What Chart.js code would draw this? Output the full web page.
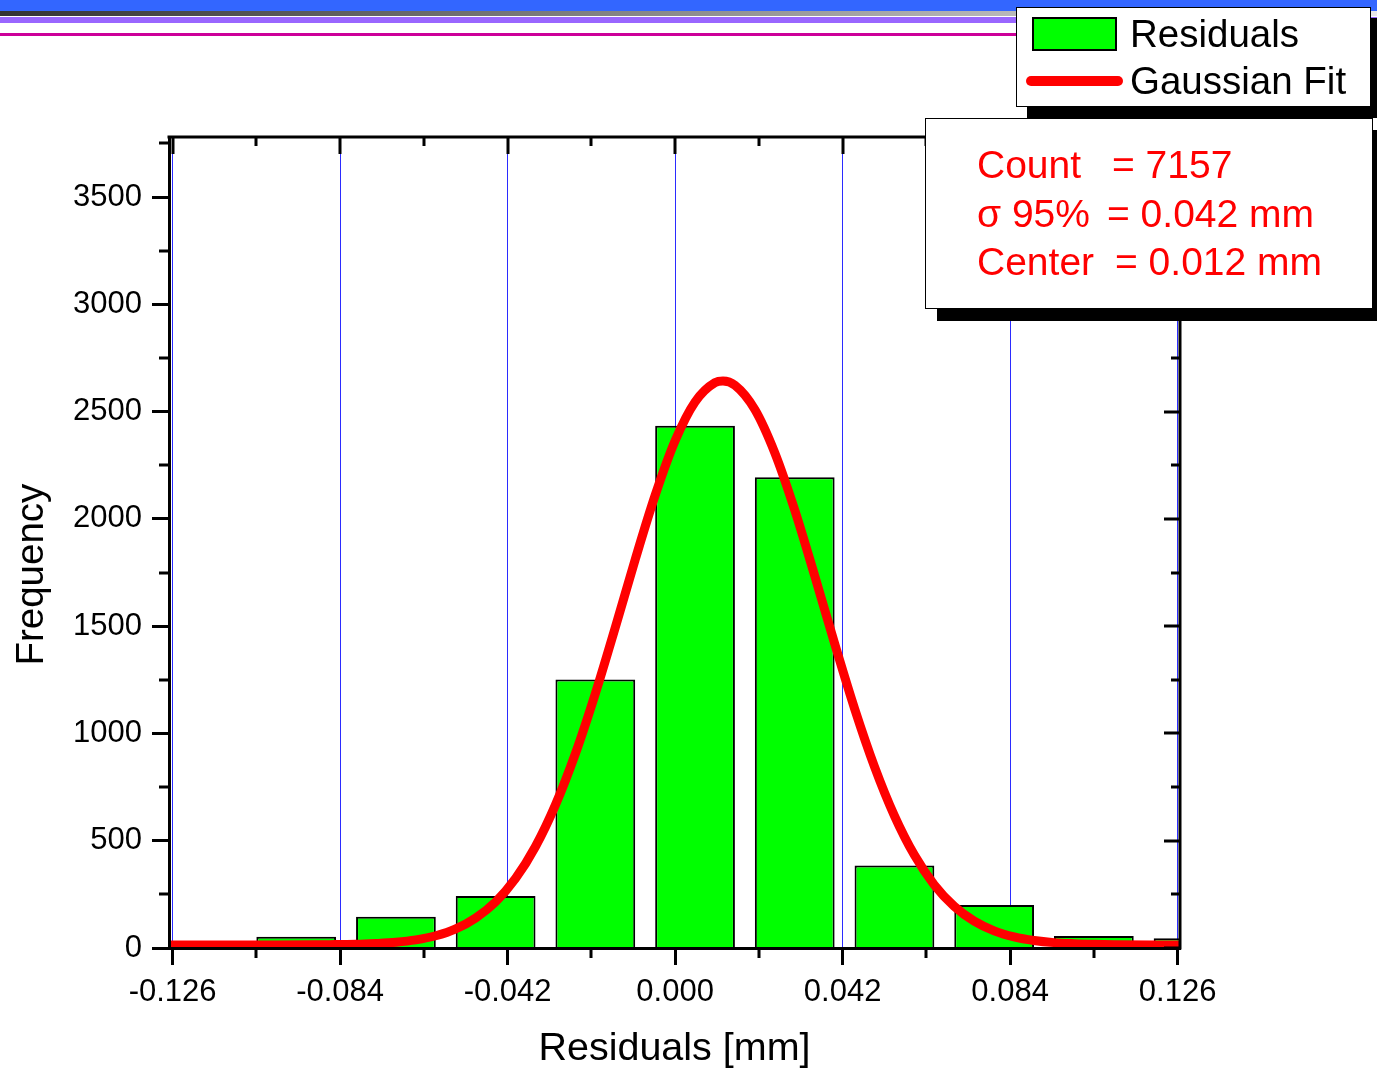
<!DOCTYPE html>
<html>
<head>
<meta charset="utf-8">
<script src="https://cdn.jsdelivr.net/npm/chart.js@4.4.0/dist/chart.umd.min.js"></script>
<style>
html,body{margin:0;padding:0;background:#fff;width:1377px;height:1069px;overflow:hidden;font-family:"Liberation Sans",Arial,sans-serif;}
#wrap{position:relative;width:1377px;height:1069px;}
#chart{position:absolute;left:0;top:0;}
.abs{position:absolute;}
.txt{position:absolute;font-size:38.5px;line-height:38.5px;white-space:pre;}
.stat{position:absolute;font-size:39px;line-height:39px;white-space:pre;color:#FF0000;}
</style>
</head>
<body>
<div id="wrap">
  <canvas id="chart" width="1377" height="1069"></canvas>

  <!-- top decoration bands -->
  <div class="abs" style="left:0;top:0;width:1377px;height:11px;background:#3366FF;"></div>
  <div class="abs" style="left:0;top:11px;width:1377px;height:5px;background:linear-gradient(to right,#333333,#e8e8e8);"></div>
  <div class="abs" style="left:0;top:17px;width:1377px;height:6px;background:#9966FF;"></div>
  <div class="abs" style="left:0;top:33px;width:1377px;height:2.5px;background:#CC0099;"></div>

  <!-- legend -->
  <div class="abs" style="left:1016px;top:7px;width:355px;height:100px;box-sizing:border-box;border:1.5px solid #000;background:#fff;box-shadow:11px 11px 0 #000;"></div>
  <div class="abs" id="swatchBar" style="left:1032px;top:17px;width:85px;height:34px;box-sizing:border-box;border:2px solid #000;background:#00FF00;"></div>
  <div class="abs" id="swatchLine" style="left:1026px;top:76px;width:97px;height:10px;border-radius:5px;background:#FF0000;"></div>
  <div class="txt" id="leg0" style="left:1130px;top:14.5px;"></div>
  <div class="txt" id="leg1" style="left:1130px;top:61.5px;"></div>

  <!-- stats box -->
  <div class="abs" style="left:925px;top:118px;width:448px;height:191px;box-sizing:border-box;border:1.5px solid #000;background:#fff;box-shadow:12px 12px 0 #000;"></div>
  <div class="stat" id="s0a" style="left:977px;top:145px;"></div>
  <div class="stat" id="s0b" style="left:1112px;top:145px;"></div>
  <div class="stat" id="s1a" style="left:977px;top:194px;"></div>
  <div class="stat" id="s1b" style="left:1107px;top:194px;"></div>
  <div class="stat" id="s2a" style="left:977px;top:242px;"></div>
  <div class="stat" id="s2b" style="left:1115px;top:242px;"></div>
</div>

<script>
// ---------------- data ----------------
const binCenters = [-0.12, -0.095, -0.07, -0.045, -0.02, 0.005, 0.03, 0.055, 0.08, 0.105, 0.13];
const counts     = [20, 52, 146, 242, 1252, 2434, 2194, 384, 200, 56, 45];

const fitX = [-0.1269, -0.12, -0.11, -0.10, -0.09, -0.085, -0.08, -0.075, -0.07, -0.065,
              -0.06, -0.055, -0.05, -0.045, -0.04, -0.035, -0.03, -0.025, -0.02, -0.015,
              -0.01, -0.005, 0, 0.005, 0.01, 0.012, 0.015, 0.02, 0.025, 0.03,
              0.035, 0.04, 0.045, 0.05, 0.055, 0.06, 0.065, 0.07, 0.075, 0.08,
              0.085, 0.09, 0.095, 0.10, 0.105, 0.11, 0.12, 0.1266];
const fitY = [14, 14, 14, 14, 15, 16, 17, 21, 27, 38,
              57, 89, 140, 215, 324, 473, 667, 906, 1186, 1494,
              1811, 2110, 2364, 2545, 2635, 2643, 2623, 2510, 2308, 2041,
              1735, 1419, 1116, 845, 616, 433, 294, 194, 125, 80,
              52, 35, 25, 20, 17, 15, 14, 14];

const xTickValues  = [-0.126, -0.084, -0.042, 0, 0.042, 0.084, 0.126];
const xMinorTicks  = [-0.105, -0.063, -0.021, 0.021, 0.063, 0.105];
const yTickValues  = [0, 500, 1000, 1500, 2000, 2500, 3000, 3500];
const yMinorTicks  = [250, 750, 1250, 1750, 2250, 2750, 3250, 3750];
const xRange = [-0.1269, 0.1266];
const yRange = [0, 3780];

const seriesNames = ['Residuals', 'Gaussian Fit'];
const xTitle = 'Residuals [mm]';
const yTitle = 'Frequency';
const statLabels = ['Count', '\u03C3 95%', 'Center'];
const statValues = ['= 7157', '= 0.042 mm', '= 0.012 mm'];

// ---------------- text overlays ----------------
document.getElementById('leg0').textContent = seriesNames[0];
document.getElementById('leg1').textContent = seriesNames[1];
['s0','s1','s2'].forEach((id, i) => {
  document.getElementById(id + 'a').textContent = statLabels[i];
  document.getElementById(id + 'b').textContent = statValues[i];
});

// ---------------- chart ----------------
const FONT = '"Liberation Sans", Arial, sans-serif';

const framePlugin = {
  id: 'originFrame',
  afterDraw(chart) {
    const { ctx, chartArea: a, scales: { x, y } } = chart;
    ctx.save();
    ctx.strokeStyle = '#000';
    ctx.lineWidth = 3;
    ctx.lineCap = 'butt';
    ctx.beginPath();
    // top and right frame lines
    ctx.moveTo(a.left - 1.5, a.top); ctx.lineTo(a.right + 1.5, a.top);
    ctx.moveTo(a.right, a.top); ctx.lineTo(a.right, a.bottom + 1.5);
    // bottom minor ticks (outward) and top ticks (inward)
    xMinorTicks.forEach(v => {
      const px = Math.round(x.getPixelForValue(v));
      ctx.moveTo(px, a.bottom); ctx.lineTo(px, a.bottom + 10);
      ctx.moveTo(px, a.top); ctx.lineTo(px, a.top + 9);
    });
    xTickValues.forEach(v => {
      const px = Math.round(x.getPixelForValue(v));
      ctx.moveTo(px, a.top); ctx.lineTo(px, a.top + 17);
    });
    // left minor ticks (outward) and right ticks (inward)
    yMinorTicks.forEach(v => {
      const py = Math.round(y.getPixelForValue(v));
      ctx.moveTo(a.left, py); ctx.lineTo(a.left - 10, py);
      ctx.moveTo(a.right, py); ctx.lineTo(a.right - 9, py);
    });
    yTickValues.forEach(v => {
      const py = Math.round(y.getPixelForValue(v));
      ctx.moveTo(a.right, py); ctx.lineTo(a.right - 16, py);
    });
    ctx.stroke();
    ctx.restore();
  }
};

new Chart(document.getElementById('chart').getContext('2d'), {
  type: 'bar',
  data: {
    datasets: [
      {
        type: 'line',
        label: seriesNames[1],
        data: fitX.map((v, i) => ({ x: v, y: fitY[i] })),
        borderColor: '#FF0000',
        borderWidth: 9,
        pointRadius: 0,
        fill: false,
        cubicInterpolationMode: 'monotone',
        order: 0
      },
      {
        type: 'bar',
        label: seriesNames[0],
        data: binCenters.map((v, i) => ({ x: v, y: counts[i] })),
        backgroundColor: '#00FF00',
        borderColor: '#000000',
        borderWidth: 2,
        borderSkipped: 'start',
        barPercentage: 0.8,
        categoryPercentage: 1.0,
        order: 1
      }
    ]
  },
  options: {
    responsive: false,
    animation: false,
    layout: { padding: { top: 137, right: 197, left: 0, bottom: 0 } },
    plugins: { legend: { display: false }, tooltip: { enabled: false } },
    scales: {
      x: {
        type: 'linear',
        position: 'bottom',
        min: xRange[0],
        max: xRange[1],
        offset: false,
        afterBuildTicks: s => { s.ticks = xTickValues.map(v => ({ value: v })); },
        afterFit: s => { s.height = 121; },
        ticks: {
          font: { family: FONT, size: 31 },
          color: '#000',
          padding: 9,
          autoSkip: false,
          maxRotation: 0,
          callback: v => Number(v).toFixed(3)
        },
        grid: {
          offset: false,
          color: '#2B2BFF',
          lineWidth: 1,
          drawTicks: true,
          tickLength: 17,
          tickColor: '#000',
          tickWidth: 3
        },
        border: { display: true, color: '#000', width: 3, z: 1 },
        title: {
          display: true,
          text: xTitle,
          color: '#000',
          font: { family: FONT, size: 39.5, lineHeight: 1 },
          padding: { top: 0, bottom: 0 }
        }
      },
      y: {
        type: 'linear',
        min: yRange[0],
        max: yRange[1],
        afterBuildTicks: s => { s.ticks = yTickValues.map(v => ({ value: v })); },
        afterFit: s => { s.width = 169; },
        ticks: {
          font: { family: FONT, size: 31 },
          color: '#000',
          padding: 10,
          callback: v => String(v)
        },
        grid: {
          drawOnChartArea: false,
          drawTicks: true,
          tickLength: 17,
          tickColor: '#000',
          tickWidth: 3
        },
        border: { display: true, color: '#000', width: 3, z: 1 },
        title: {
          display: true,
          text: yTitle + '      ',
          color: '#000',
          font: { family: FONT, size: 38.5 },
          padding: { top: 9, bottom: 0 }
        }
      }
    }
  },
  plugins: [framePlugin]
});
</script>
</body>
</html>
